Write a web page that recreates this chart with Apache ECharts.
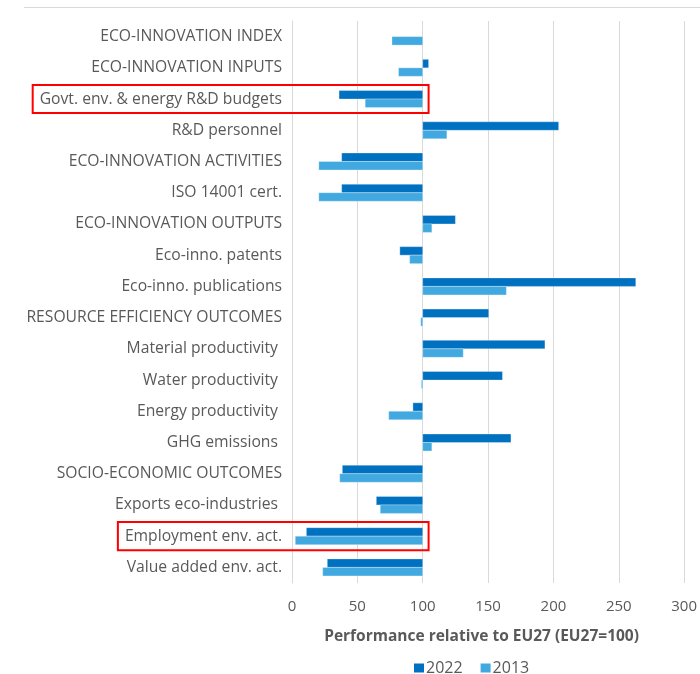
<!DOCTYPE html>
<html>
<head>
<meta charset="utf-8">
<script src="https://cdn.jsdelivr.net/npm/echarts@6/dist/echarts.min.js"></script>
<style>
  html, body { margin: 0; padding: 0; background: #ffffff; }
  #chart { width: 700px; height: 674px; }
</style>
</head>
<body>
<div id="chart"></div>
<script>
// Indicators, top to bottom
const categories = [
  'ECO-INNOVATION INDEX',
  'ECO-INNOVATION INPUTS',
  'Govt. env. & energy R&D budgets',
  'R&D personnel',
  'ECO-INNOVATION ACTIVITIES',
  'ISO 14001 cert.',
  'ECO-INNOVATION OUTPUTS',
  'Eco-inno. patents',
  'Eco-inno. publications',
  'RESOURCE EFFICIENCY OUTCOMES',
  'Material productivity ',
  'Water productivity ',
  'Energy productivity ',
  'GHG emissions ',
  'SOCIO-ECONOMIC OUTCOMES',
  'Exports eco-industries ',
  'Employment env. act.',
  'Value added env. act.'
];

// Performance relative to EU27 (EU27 = 100)
const values2022 = [100, 104.5, 36, 204, 38, 38, 125, 82.5, 263, 150.5, 193.5, 161, 92.5, 167.5, 38.5, 64.5, 11, 27];
const values2013 = [76.5, 81.5, 56, 118.5, 20.5, 20.5, 107, 90, 164, 98.5, 131, 99, 74, 107, 36.5, 67.5, 2.5, 23.5];

const seriesNames = ['2022', '2013'];
const axisTicks = [0, 50, 100, 150, 200, 250, 300];
const baseline = 100;

// Indicators outlined in red
const highlighted = ['Govt. env. & energy R&D budgets', 'Employment env. act.'];

const darkBlue = '#0070C0';
const lightBlue = '#41A9E0';
const textColor = '#595959';
const gridColor = '#D9D9D9';
const labelFont = '"Open Sans", "Noto Sans", sans-serif';
const labelSize = 15.7;

const chart = echarts.init(document.getElementById('chart'));

// Bars start at the EU27 baseline and run to each value;
// the 2022 bar sits above the category centre, the 2013 bar below it.
function makeRender(slot) {
  return function (params, api) {
    const idx = api.value(0);
    const v = api.value(1);
    const from = api.coord([baseline, idx]);
    const to = api.coord([v, idx]);
    const band = api.size([0, 1])[1];
    const h = band * 0.272;
    const y = slot === 0 ? from[1] - h : from[1];
    const x0 = Math.min(from[0], to[0]);
    const w = Math.abs(to[0] - from[0]);
    if (w < 0.01) return null;
    return {
      type: 'rect',
      shape: { x: x0, y: y, width: w, height: h },
      style: {
        fill: api.visual('color'),
        stroke: 'rgba(255,255,255,0.3)',
        lineWidth: 1
      }
    };
  };
}

function seriesData(vals) {
  return vals.map((v, i) => [i, v]);
}

const option = {
  animation: false,
  backgroundColor: '#ffffff',
  textStyle: { fontFamily: labelFont },
  grid: { left: 292, right: 11, top: 21, bottom: 91, containLabel: false },
  legend: {
    data: seriesNames.map(n => ({ name: n, icon: 'rect' })),
    left: 409,
    top: 655,
    itemWidth: 10,
    itemHeight: 9,
    itemGap: 18,
    textStyle: { color: textColor, fontSize: 16, fontFamily: labelFont, padding: [0, 0, 0, -3] }
  },
  xAxis: {
    type: 'value',
    min: axisTicks[0],
    max: axisTicks[axisTicks.length - 1],
    interval: axisTicks[1] - axisTicks[0],
    name: 'Performance relative to EU27 (EU27=100)',
    nameLocation: 'middle',
    nameGap: 46,
    nameTextStyle: { color: textColor, fontSize: 15.5, fontWeight: 'bold', fontFamily: labelFont, padding: [0, 13, 0, 0] },
    axisLine: { show: false },
    axisTick: { show: false },
    axisLabel: { color: textColor, fontSize: 15, margin: 16, fontFamily: labelFont },
    splitLine: { show: true, lineStyle: { color: gridColor, width: 1 } }
  },
  yAxis: {
    type: 'category',
    data: categories,
    inverse: true,
    axisLine: { show: true, lineStyle: { color: gridColor, width: 1 } },
    axisTick: { show: false },
    axisLabel: { color: textColor, fontSize: labelSize, margin: 10, fontFamily: labelFont, padding: [3, 0, 0, 0] }
  },
  series: [
    {
      name: seriesNames[0],
      type: 'custom',
      itemStyle: { color: darkBlue },
      encode: { x: 1, y: 0 },
      renderItem: makeRender(0),
      data: seriesData(values2022)
    },
    {
      name: seriesNames[1],
      type: 'custom',
      itemStyle: { color: lightBlue },
      encode: { x: 1, y: 0 },
      renderItem: makeRender(1),
      data: seriesData(values2013)
    }
  ]
};

chart.setOption(option);

// Frame line along the top and red outlines around the highlighted indicators
function drawOverlays() {
  const elements = [{
    type: 'line',
    shape: { x1: 24, y1: 7.5, x2: 700, y2: 7.5 },
    style: { stroke: gridColor, lineWidth: 1 },
    silent: true
  }];
  const font = labelSize + 'px ' + labelFont;
  const ctx = document.createElement('canvas').getContext('2d');
  ctx.font = font;
  highlighted.forEach(name => {
    const idx = categories.indexOf(name);
    const centre = chart.convertToPixel({ yAxisIndex: 0 }, idx);
    const band = chart.convertToPixel({ yAxisIndex: 0 }, 1) - chart.convertToPixel({ yAxisIndex: 0 }, 0);
    const axisX = chart.convertToPixel({ xAxisIndex: 0 }, 0);
    const right = chart.convertToPixel({ xAxisIndex: 0 }, 104.5);
    const textW = ctx.measureText(name).width;
    const left = axisX - 10 - textW - 7;
    elements.push({
      type: 'rect',
      shape: { x: left, y: centre - band * 0.45, width: right - left, height: band * 0.9 },
      style: { fill: null, stroke: '#FF0000', lineWidth: 2 },
      silent: true,
      z: 100
    });
  });
  chart.setOption({ graphic: elements });
}
drawOverlays();
</script>
</body>
</html>
